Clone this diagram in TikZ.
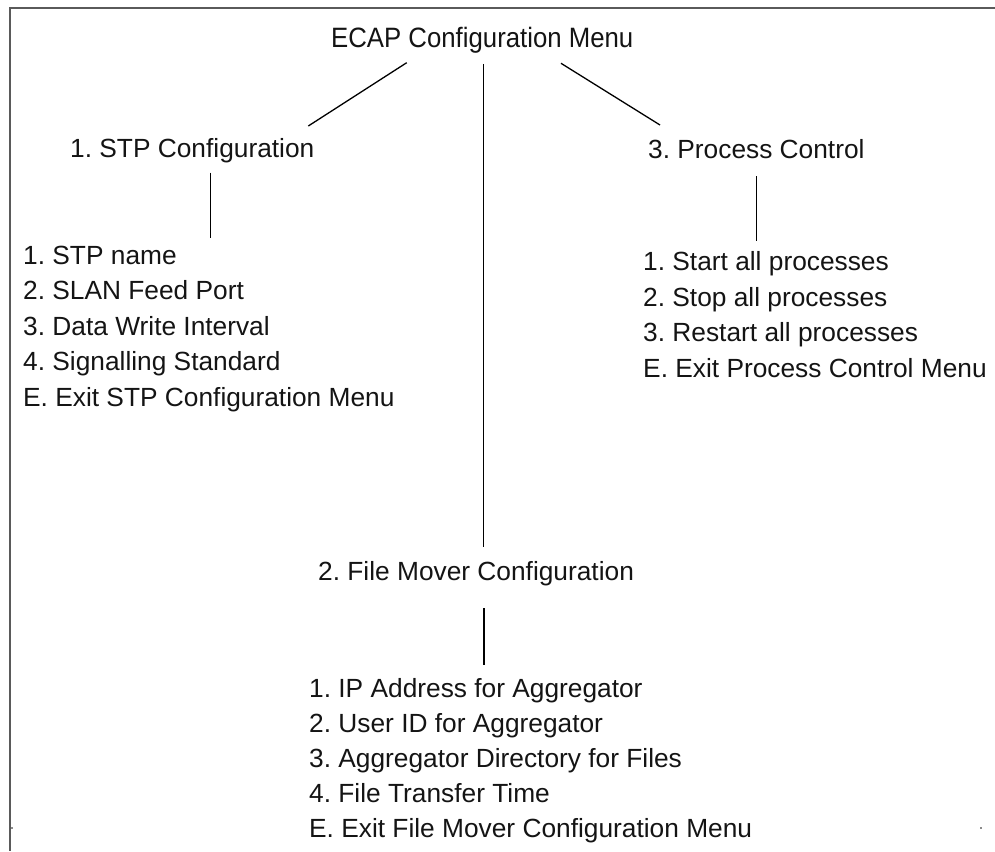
\documentclass[tikz,border=0pt]{standalone}
\usepackage{fontspec}
\setmainfont{Liberation Sans}
\newfontfamily\titlefont{Liberation Sans}[FakeStretch=0.92]
\frenchspacing
\definecolor{framecol}{HTML}{5A5A5A}
\definecolor{txtcol}{HTML}{141414}
\begin{document}
\begin{tikzpicture}[x=1pt,y=-1pt,
  titletext/.style={anchor=base west,inner sep=0pt,text=txtcol,font=\frenchspacing\titlefont\fontsize{28}{34}\selectfont},
  menutext/.style={anchor=base west,inner sep=0pt,text=txtcol,font=\frenchspacing\fontsize{26.3}{32}\selectfont},
  link/.style={draw=black,line width=1.3pt},
  frameline/.style={draw=framecol,line width=2pt}]
\useasboundingbox (0,0) rectangle (995,851);
% frame
\draw[frameline] (995,8) -- (10,8) -- (10,851);
\fill[framecol!70] (11,827) rectangle (13,829);
\fill[framecol!70] (980,827) rectangle (982,829);
% title
\node[titletext] (title) at (331,47.3) {ECAP Configuration Menu};
% headings
\node[menutext] (stp) at (70,157) {1. STP Configuration};
\node[menutext] (proc) at (648,158) {3. Process Control};
\node[menutext] (fm) at (318,580) {2. File Mover Configuration};
% STP list
\node[menutext] (s1) at (23,264) {1. STP name};
\node[menutext] (s2) at (23,299.5) {2. SLAN Feed Port};
\node[menutext] (s3) at (23,335) {3. Data Write Interval};
\node[menutext] (s4) at (23,370.5) {4. Signalling Standard};
\node[menutext] (s5) at (23,406) {E. Exit STP Configuration Menu};
% Process list
\node[menutext] (p1) at (643,270.5) {1. Start all processes};
\node[menutext] (p2) at (643,306) {2. Stop all processes};
\node[menutext] (p3) at (643,341.5) {3. Restart all processes};
\node[menutext] (p4) at (643,377) {E. Exit Process Control Menu};
% File mover list
\node[menutext] (f1) at (309,697) {1. IP Address for Aggregator};
\node[menutext] (f2) at (309,732) {2. User ID for Aggregator};
\node[menutext] (f3) at (309,767) {3. Aggregator Directory for Files};
\node[menutext] (f4) at (309,802) {4. File Transfer Time};
\node[menutext] (f5) at (309,837) {E. Exit File Mover Configuration Menu};
% connector end points
\coordinate (tL) at (406.7,62.7);
\coordinate (tM) at (483.5,64);
\coordinate (tR) at (561,63.3);
\coordinate (stpTop) at (308.3,126);
\coordinate (fmTop) at (483.5,547);
\coordinate (procTop) at (660,125);
\coordinate (stpA) at (210.7,172.7);
\coordinate (stpB) at (210.7,238.3);
\coordinate (procA) at (756.7,176);
\coordinate (procB) at (756.7,240.7);
\coordinate (fmA) at (484,608);
\coordinate (fmB) at (484,665);
% connectors
\draw[link] (tL) -- (stpTop);
\draw[link] (tM) -- (fmTop);
\draw[link] (tR) -- (procTop);
\draw[link] (stpA) -- (stpB);
\draw[link] (procA) -- (procB);
\draw[link] (fmA) -- (fmB);
\end{tikzpicture}
\end{document}
